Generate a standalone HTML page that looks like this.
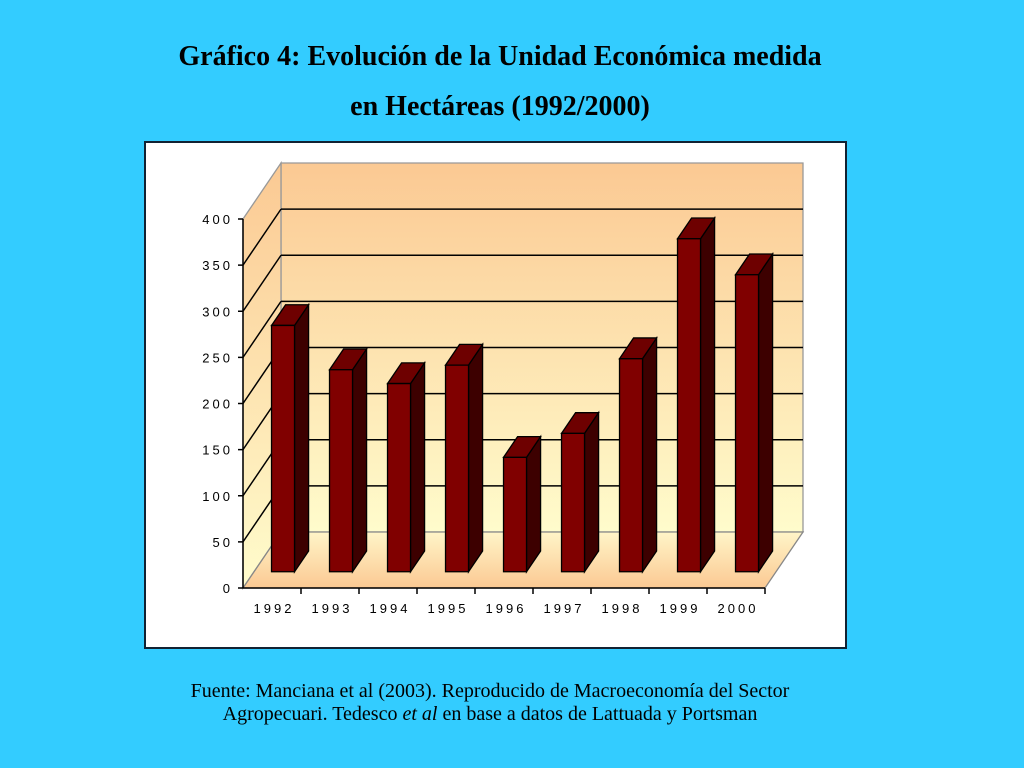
<!DOCTYPE html>
<html><head><meta charset="utf-8"><style>
body{margin:0;width:1024px;height:768px;background:#33CCFF;position:relative;overflow:hidden;font-family:"Liberation Serif",serif}
.t{position:absolute;left:0;width:1000px;text-align:center;font-weight:bold;font-size:28px;color:#000}
.f{position:absolute;left:0;width:980px;text-align:center;font-size:20px;line-height:23px}
</style></head><body>
<div class="t" style="top:41px">Gráfico 4: Evolución de la Unidad Económica medida</div>
<div class="t" style="top:91px">en Hectáreas (1992/2000)</div>
<svg style="position:absolute;left:0;top:0" width="1024" height="768">
<defs>
<linearGradient id="wall" x1="0" y1="0" x2="0" y2="1"><stop offset="0" stop-color="#FBC993"/><stop offset="1" stop-color="#FFFCCC"/></linearGradient>
<linearGradient id="floor" x1="0" y1="0" x2="0" y2="1"><stop offset="0" stop-color="#FFF5C8"/><stop offset="1" stop-color="#FBC993"/></linearGradient>
</defs>
<rect x="145" y="142" width="701" height="506" fill="#fff" stroke="#123" stroke-width="2"/>
<g id="plot"></g>
</svg>
<div class="f" style="top:680px">Fuente: Manciana et al (2003). Reproducido de Macroeconomía del Sector<br>Agropecuari. Tedesco <i>et al</i> en base a datos de Lattuada y Portsman</div>
<script>
const categories=["1992","1993","1994","1995","1996","1997","1998","1999","2000"];
const values=[267,219,204,224,124,150,231,361,322];
const ticks=[0,50,100,150,200,250,300,350,400];
const NS="http://www.w3.org/2000/svg";
const g=document.getElementById('plot');
const X0=243,X1=765,Y0=588,K=369/400,DX=38,DY=-56;
const cw=(X1-X0)/categories.length;
function y(v){return Y0-v*K;}
function P(x,yy,d){return [x+DX*d,yy+DY*d];}
function poly(pts,fill,stroke,name){const p=document.createElementNS(NS,'polygon');p.setAttribute('points',pts.map(a=>a.join(',')).join(' '));p.setAttribute('fill',fill);p.setAttribute('stroke',stroke);p.setAttribute('stroke-width','1.3');


g.appendChild(p);return p;}
function line(x1,y1,x2,y2,c,name){const l=document.createElementNS(NS,'line');l.setAttribute('x1',x1);l.setAttribute('y1',y1);l.setAttribute('x2',x2);l.setAttribute('y2',y2);l.setAttribute('stroke',c);l.setAttribute('stroke-width','1.5');


g.appendChild(l);}
function text(x,yy,s,anchor,name){const t=document.createElementNS(NS,'text');t.setAttribute('x',x);t.setAttribute('y',yy);t.setAttribute('text-anchor',anchor);t.setAttribute('font-family','Liberation Sans, sans-serif');t.setAttribute('font-size','13');t.setAttribute('letter-spacing','3');t.textContent=s;


g.appendChild(t);}
const yTop=ticks[ticks.length-1];
poly([P(X0,y(0),1),P(X1,y(0),1),P(X1,y(yTop),1),P(X0,y(yTop),1)],'url(#wall)','#999','back-wall');
poly([P(X0,y(0),0),P(X0,y(0),1),P(X0,y(yTop),1),P(X0,y(yTop),0)],'url(#wall)','#999','side-wall');
poly([P(X0,y(0),0),P(X1,y(0),0),P(X1,y(0),1),P(X0,y(0),1)],'url(#floor)','#888','floor');
ticks.forEach(v=>{
 if(v>0&&v<yTop){const a=P(X0,y(v),0),b=P(X0,y(v),1),c=P(X1,y(v),1);line(a[0],a[1],b[0],b[1],'#000','gridline-side-'+v);line(b[0],b[1],c[0],c[1],'#000','gridline-'+v);}
 line(X0-5,y(v),X0,y(v),'#000','y-tick-'+v);
 text(X0-10,y(v)+5,String(v),'end','y-tick-label');
});
line(X0,y(0),X0,y(yTop),'#000','y-axis');
line(X0,y(0),X1,y(0),'#000','x-axis');
categories.forEach((c,i)=>{
 const tx=X0+cw*(i+1);line(tx,Y0,tx,Y0+6,'#000','x-tick');
 text(X0+cw*(i+0.5)+2,Y0+25,c,'middle','x-tick-label');
});
const bw=23,d0=0.29,d1=0.66;
values.forEach((v,i)=>{
 const cx=X0+cw*(i+0.5),xl=cx-bw/2,xr=cx+bw/2;
 const n='bar-'+categories[i];
 poly([P(xr,y(0),d0),P(xr,y(0),d1),P(xr,y(v),d1),P(xr,y(v),d0)],'#3d0000','#000',n+'-side');
 poly([P(xl,y(v),d0),P(xr,y(v),d0),P(xr,y(v),d1),P(xl,y(v),d1)],'#6e0000','#000',n+'-top');
 poly([P(xl,y(0),d0),P(xr,y(0),d0),P(xr,y(v),d0),P(xl,y(v),d0)],'#800000','#000',n);
});
</script>
</body></html>
